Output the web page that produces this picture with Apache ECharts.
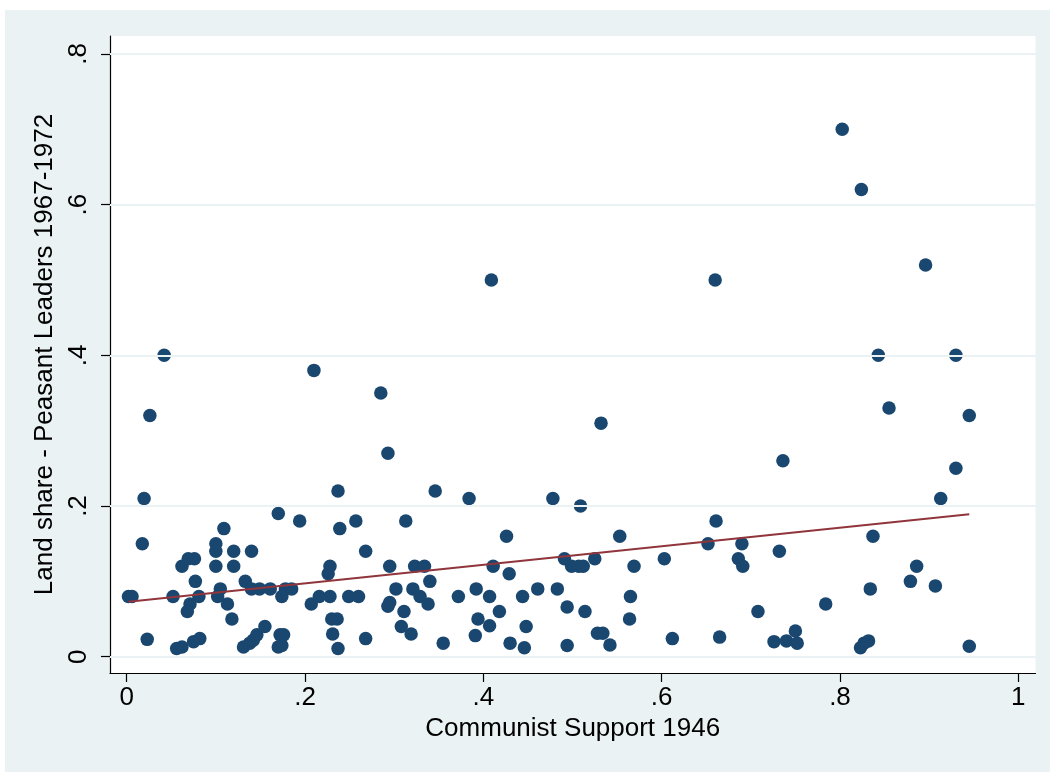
<!DOCTYPE html>
<html>
<head>
<meta charset="utf-8">
<script src="https://cdn.jsdelivr.net/npm/echarts@6/dist/echarts.min.js"></script>
<style>
  html, body { margin: 0; padding: 0; background: #ffffff; }
  #chart { position: absolute; left: 5px; top: 10px; width: 1045px; height: 762px; background: #eaf2f3; }
</style>
</head>
<body>
<div id="chart"></div>
<script>
// ---- data ----
const communistSupport = [
  0.002, 0.006, 0.042, 0.026, 0.0195, 0.0175, 0.023, 0.052, 0.056, 0.062,
  0.062, 0.069, 0.076, 0.077, 0.081, 0.071, 0.068, 0.075, 0.082, 0.100,
  0.100, 0.109, 0.100, 0.105, 0.102, 0.113, 0.118, 0.120, 0.120, 0.133,
  0.140, 0.140, 0.149, 0.161, 0.131, 0.138, 0.142, 0.146, 0.155, 0.170,
  0.174, 0.178, 0.185, 0.172, 0.176, 0.170, 0.174, 0.194, 0.207, 0.216,
  0.228, 0.228, 0.226, 0.237, 0.239, 0.230, 0.236, 0.231, 0.237, 0.210,
  0.285, 0.293, 0.346, 0.384, 0.478, 0.257, 0.313, 0.268, 0.426, 0.295,
  0.323, 0.334, 0.340, 0.411, 0.429, 0.491, 0.249, 0.260, 0.302, 0.321,
  0.329, 0.338, 0.293, 0.295, 0.311, 0.372, 0.392, 0.407, 0.444, 0.461,
  0.483, 0.494, 0.308, 0.319, 0.268, 0.394, 0.418, 0.407, 0.391, 0.355,
  0.430, 0.446, 0.448, 0.494, 0.409, 0.532, 0.736, 0.509, 0.661, 0.553,
  0.652, 0.690, 0.732, 0.499, 0.507, 0.512, 0.525, 0.569, 0.603, 0.686,
  0.691, 0.514, 0.565, 0.564, 0.528, 0.534, 0.542, 0.612, 0.665, 0.708,
  0.726, 0.740, 0.750, 0.752, 0.660, 0.855, 0.945, 0.930, 0.913, 0.837,
  0.886, 0.879, 0.907, 0.834, 0.784, 0.823, 0.827, 0.832, 0.945, 0.8025,
  0.824, 0.896, 0.843, 0.930
];
const landShare = [
  0.08, 0.08, 0.40, 0.32, 0.21, 0.15, 0.023, 0.08, 0.011, 0.013,
  0.12, 0.13, 0.13, 0.10, 0.08, 0.07, 0.06, 0.02, 0.024, 0.15,
  0.14, 0.17, 0.12, 0.09, 0.08, 0.07, 0.05, 0.14, 0.12, 0.10,
  0.14, 0.09, 0.09, 0.09, 0.013, 0.018, 0.022, 0.029, 0.04, 0.19,
  0.08, 0.09, 0.09, 0.029, 0.029, 0.013, 0.015, 0.18, 0.07, 0.08,
  0.08, 0.12, 0.11, 0.22, 0.17, 0.05, 0.05, 0.03, 0.011, 0.38,
  0.35, 0.27, 0.22, 0.21, 0.21, 0.18, 0.18, 0.14, 0.16, 0.12,
  0.12, 0.12, 0.10, 0.12, 0.11, 0.13, 0.08, 0.08, 0.09, 0.09,
  0.08, 0.07, 0.067, 0.072, 0.06, 0.08, 0.09, 0.08, 0.08, 0.09,
  0.09, 0.066, 0.04, 0.03, 0.024, 0.05, 0.06, 0.041, 0.028, 0.018,
  0.018, 0.012, 0.04, 0.015, 0.50, 0.31, 0.26, 0.20, 0.18, 0.16,
  0.15, 0.15, 0.14, 0.12, 0.12, 0.12, 0.13, 0.12, 0.13, 0.13,
  0.12, 0.06, 0.08, 0.05, 0.031, 0.031, 0.0155, 0.024, 0.026, 0.06,
  0.02, 0.021, 0.034, 0.018, 0.50, 0.33, 0.32, 0.25, 0.21, 0.16,
  0.12, 0.10, 0.094, 0.09, 0.07, 0.012, 0.018, 0.021, 0.014, 0.70,
  0.62, 0.52, 0.40, 0.40
];
// fitted line endpoints
const fitX = [0.002, 0.945];
const fitY = [0.073, 0.189];

const xTickValues = [0, 0.2, 0.4, 0.6, 0.8, 1];
const xTickLabels = ['0', '.2', '.4', '.6', '.8', '1'];
const yTickValues = [0, 0.2, 0.4, 0.6, 0.8];
const yTickLabels = ['0', '.2', '.4', '.6', '.8'];

const xTitle = 'Communist Support 1946';
const yTitle = 'Land share - Peasant Leaders 1967-1972';

// ---- build ----
const points = communistSupport.map((x, i) => [x, landShare[i]]);
const fitData = fitX.map((x, i) => [x, fitY[i]]);
function lookup(vals, labels) {
  return function (v) {
    for (let i = 0; i < vals.length; i++) if (Math.abs(vals[i] - v) < 1e-9) return labels[i];
    return '';
  };
}
const FONT = '"Liberation Sans", Arial, Helvetica, sans-serif';
const chart = echarts.init(document.getElementById('chart'), null, { renderer: 'canvas' });
chart.setOption({
  backgroundColor: '#eaf2f3',
  animation: false,
  textStyle: { fontFamily: FONT },
  grid: {
    left: 105, right: 14.5, top: 26, bottom: 99,
    show: true, backgroundColor: '#ffffff', borderWidth: 0
  },
  xAxis: {
    type: 'value',
    min: -0.01873, max: 1.01929,
    name: xTitle, nameLocation: 'middle', nameGap: 41,
    nameTextStyle: { fontSize: 26, color: '#000', fontFamily: FONT },
    axisLine: { show: true, onZero: false, lineStyle: { color: '#000', width: 1.2 } },
    axisTick: { show: true, length: 9, inside: false, customValues: xTickValues, lineStyle: { color: '#000', width: 1.2 } },
    axisLabel: { customValues: xTickValues, formatter: lookup(xTickValues, xTickLabels), fontSize: 26, color: '#000', margin: 12, fontFamily: FONT },
    splitLine: { show: false }
  },
  yAxis: {
    type: 'value',
    min: -0.02163, max: 0.8238,
    name: yTitle, nameLocation: 'middle', nameGap: 52, nameRotate: 90,
    nameTextStyle: { fontSize: 26, color: '#000', fontFamily: FONT },
    axisLine: { show: true, onZero: false, lineStyle: { color: '#000', width: 1.2 } },
    axisTick: { show: true, length: 9, inside: false, customValues: yTickValues, lineStyle: { color: '#000', width: 1.2 } },
    axisLabel: { customValues: yTickValues, formatter: lookup(yTickValues, yTickLabels), rotate: 90, fontSize: 26, color: '#000', margin: 18, fontFamily: FONT },
    splitLine: { show: false }
  },
  series: [
    {
      type: 'line', data: [], z: 1, silent: true,
      markLine: {
        silent: true, symbol: ['none', 'none'], label: { show: false },
        lineStyle: { color: '#eaf2f3', width: 2, type: 'solid' },
        data: yTickValues.map(v => ({ yAxis: v }))
      }
    },
    {
      type: 'scatter', data: points, z: 3,
      symbol: 'circle', symbolSize: 13.5,
      itemStyle: { color: '#1a476f', opacity: 1 }
    },
    {
      type: 'line', data: fitData, z: 4, symbol: 'none',
      lineStyle: { color: '#90353b', width: 2 }
    }
  ]
});
</script>
</body>
</html>
